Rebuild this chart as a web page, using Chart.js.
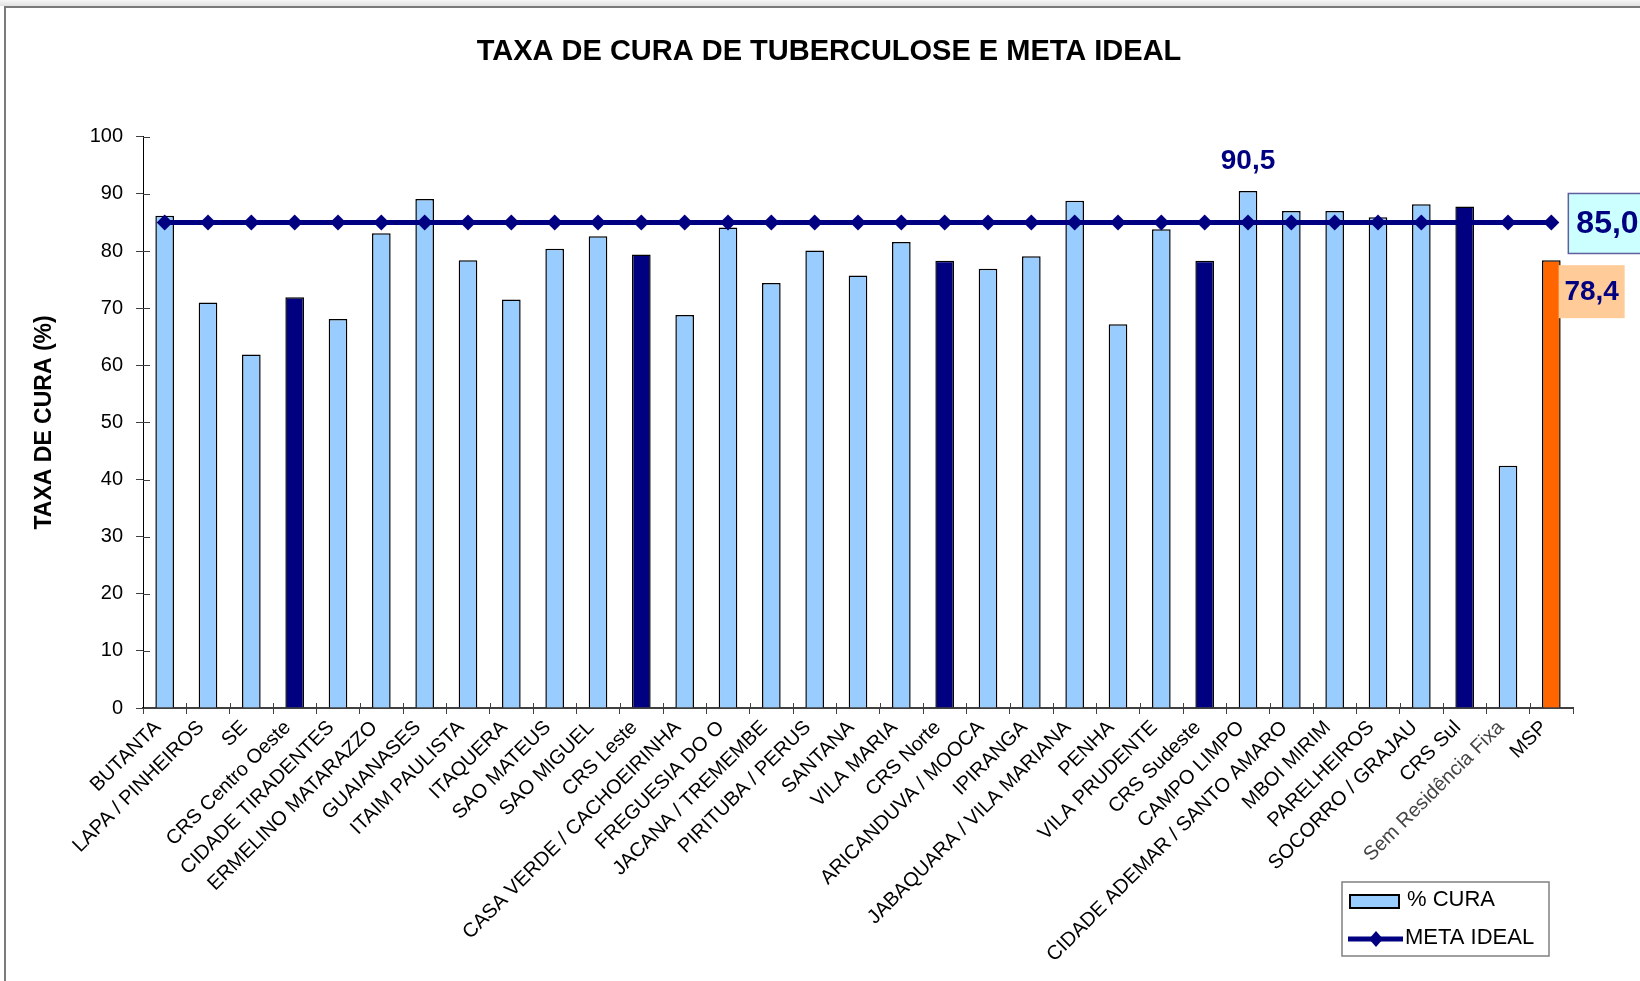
<!DOCTYPE html>
<html>
<head>
<meta charset="utf-8">
<script src="https://cdn.jsdelivr.net/npm/chart.js@4.4.0/dist/chart.umd.min.js"></script>
<style>
  html, body { margin: 0; padding: 0; background: #fff; }
  body { width: 1640px; height: 981px; overflow: hidden; position: relative; }
  #topband { position: absolute; left: 0; top: 0; width: 1640px; height: 6px; background: linear-gradient(#f6f6f6, #e2e2e2); }
  #frame { position: absolute; left: 4px; top: 6px; width: 1700px; height: 1100px; border: 2px solid #7a7a7a; box-sizing: border-box; }
  #c { position: absolute; left: 0; top: 0; }
</style>
</head>
<body>
<div id="topband"></div>
<div id="frame"></div>
<canvas id="c" width="1640" height="981"></canvas>
<script>
// Taxa de cura de tuberculose por região

const categories = [
  "BUTANTA", "LAPA / PINHEIROS", "SE", "CRS Centro Oeste", "CIDADE TIRADENTES",
  "ERMELINO MATARAZZO", "GUAIANASES", "ITAIM PAULISTA", "ITAQUERA", "SAO MATEUS",
  "SAO MIGUEL", "CRS Leste", "CASA VERDE / CACHOEIRINHA", "FREGUESIA DO O",
  "JACANA / TREMEMBE", "PIRITUBA / PERUS", "SANTANA", "VILA MARIA", "CRS Norte",
  "ARICANDUVA / MOOCA", "IPIRANGA", "JABAQUARA / VILA MARIANA", "PENHA",
  "VILA PRUDENTE", "CRS Sudeste", "CAMPO LIMPO", "CIDADE ADEMAR / SANTO AMARO",
  "MBOI MIRIM", "PARELHEIROS", "SOCORRO / GRAJAU", "CRS Sul",
  "Sem Residência Fixa", "MSP"
];

const cureRates = [
  86.2, 71.0, 61.9, 71.9, 68.1,
  83.1, 89.1, 78.4, 71.5, 80.4,
  82.6, 79.4, 68.8, 84.1,
  74.4, 80.1, 75.7, 81.6, 78.3,
  76.9, 79.1, 88.8, 67.2,
  83.8, 78.3, 90.5, 87.0,
  87.0, 85.9, 88.2, 87.8,
  42.4, 78.4
];

const metaIdeal = [
  85, 85, 85, 85, 85, 85, 85, 85, 85, 85, 85,
  85, 85, 85, 85, 85, 85, 85, 85, 85, 85, 85,
  85, 85, 85, 85, 85, 85, 85, 85, 85, 85, 85
];

const yTicks = [0, 10, 20, 30, 40, 50, 60, 70, 80, 90, 100];

const labeledBars = ["CAMPO LIMPO", "MSP"];

const FONT = '"Liberation Sans", Arial, sans-serif';
const LIGHT = "#99ccff";
const NAVY = "#000080";
const ORANGE = "#ff6600";

const barColors = categories.map((c) =>
  c === "MSP" ? ORANGE : c.startsWith("CRS") ? NAVY : LIGHT
);

const fmt = (v) => v.toFixed(1).replace(".", ",");

// value labels ("90,5", "78,4", "85,0")
const valueLabels = {
  id: "valueLabels",
  afterDatasetsDraw(chart) {
    const ctx = chart.ctx;
    const bars = chart.getDatasetMeta(1).data;
    const points = chart.getDatasetMeta(0).data;
    ctx.save();
    ctx.textBaseline = "middle";

    // CAMPO LIMPO: plain label above the bar
    const i = categories.indexOf(labeledBars[0]);
    ctx.font = "bold 28px " + FONT;
    ctx.fillStyle = NAVY;
    ctx.textAlign = "center";
    ctx.fillText(fmt(cureRates[i]), bars[i].x, bars[i].y - 30);

    // MSP: label in a peach box right of the bar
    const j = categories.indexOf(labeledBars[1]);
    const bx = bars[j].x + bars[j].width / 2 - 2;
    const by = bars[j].y + 5;
    ctx.fillStyle = "#ffcc99";
    ctx.fillRect(bx, by, 66, 53);
    ctx.fillStyle = NAVY;
    ctx.fillText(fmt(cureRates[j]), bx + 33, by + 27);

    // meta line: label in a cyan box after the last point
    const p = points[points.length - 1];
    const mx = p.x + 17;
    const my = p.y - 29;
    ctx.fillStyle = "#ccffff";
    ctx.fillRect(mx, my, 90, 60);
    ctx.strokeStyle = "#5f5f9f";
    ctx.lineWidth = 1.5;
    ctx.strokeRect(mx, my, 90, 60);
    ctx.font = "bold 32px " + FONT;
    ctx.fillStyle = NAVY;
    ctx.textAlign = "left";
    ctx.fillText(fmt(metaIdeal[metaIdeal.length - 1]), mx + 8, my + 31);
    ctx.restore();
  },
};

// Excel style ticks that cross the axes
const crossTicks = {
  id: "crossTicks",
  afterDatasetsDraw(chart) {
    const ctx = chart.ctx;
    const { x, y } = chart.scales;
    ctx.save();
    ctx.strokeStyle = "#404040";
    ctx.lineWidth = 1;
    yTicks.forEach((t) => {
      const py = Math.round(y.getPixelForValue(t)) + 0.5;
      ctx.beginPath();
      ctx.moveTo(x.left, py);
      ctx.lineTo(x.left + 7, py);
      ctx.stroke();
    });
    for (let k = 1; k < categories.length; k++) {
      const px = Math.round((x.getPixelForValue(k - 1) + x.getPixelForValue(k)) / 2) + 0.5;
      ctx.beginPath();
      ctx.moveTo(px, y.bottom);
      ctx.lineTo(px, y.bottom - 5);
      ctx.stroke();
    }
    ctx.restore();
  },
};

// legend box, bottom right
const legendBox = {
  id: "legendBox",
  afterDraw(chart) {
    const ctx = chart.ctx;
    ctx.save();
    ctx.fillStyle = "#fff";
    ctx.fillRect(1342, 882, 207, 74);
    ctx.strokeStyle = "#808080";
    ctx.lineWidth = 1.5;
    ctx.strokeRect(1342, 882, 207, 74);

    ctx.fillStyle = LIGHT;
    ctx.fillRect(1350, 895, 49, 13);
    ctx.strokeStyle = "#000";
    ctx.lineWidth = 2;
    ctx.strokeRect(1350, 895, 49, 13);

    ctx.strokeStyle = NAVY;
    ctx.lineWidth = 5;
    ctx.beginPath();
    ctx.moveTo(1348, 939);
    ctx.lineTo(1403, 939);
    ctx.stroke();
    ctx.fillStyle = NAVY;
    ctx.beginPath();
    ctx.moveTo(1376, 931);
    ctx.lineTo(1383, 939);
    ctx.lineTo(1376, 947);
    ctx.lineTo(1369, 939);
    ctx.closePath();
    ctx.fill();

    ctx.fillStyle = "#000";
    ctx.font = "22px " + FONT;
    ctx.textAlign = "left";
    ctx.textBaseline = "middle";
    ctx.fillText("% CURA", 1407, 900);
    ctx.fillText("META IDEAL", 1405, 938);
    ctx.restore();
  },
};

new Chart(document.getElementById("c").getContext("2d"), {
  data: {
    labels: categories,
    datasets: [
      {
        type: "line",
        label: "META IDEAL",
        data: metaIdeal,
        borderColor: NAVY,
        backgroundColor: NAVY,
        borderWidth: 5,
        pointStyle: "rectRot",
        pointRadius: 8,
        pointBackgroundColor: NAVY,
        pointBorderWidth: 0,
        order: 0,
      },
      {
        type: "bar",
        label: "% CURA",
        data: cureRates,
        backgroundColor: barColors,
        borderColor: "#000",
        borderWidth: 1.5,
        categoryPercentage: 1,
        barPercentage: 0.43,
        order: 1,
      },
    ],
  },
  options: {
    responsive: false,
    animation: false,
    layout: { padding: { left: 85, right: 67, top: 0, bottom: 0 } },
    plugins: {
      legend: { display: false },
      tooltip: { enabled: false },
      title: {
        display: true,
        text: "TAXA DE CURA DE TUBERCULOSE E META IDEAL",
        color: "#000",
        font: { family: FONT, size: 29, weight: "bold" },
        padding: { top: 35, bottom: 67 },
      },
    },
    scales: {
      x: {
        afterFit: (s) => { s.height = 273; },
        grid: { drawOnChartArea: false, drawTicks: true, tickLength: 6, color: "#404040" },
        border: { color: "#404040", width: 2 },
        ticks: {
          autoSkip: false,
          minRotation: 45,
          maxRotation: 45,
          padding: 2,
          labelOffset: -7,
          color: (c) => (c.tick && c.tick.label === "Sem Residência Fixa" ? "#444" : "#000"),
          font: { family: FONT, size: 20 },
        },
      },
      y: {
        min: 0,
        max: 100,
        afterFit: (s) => { s.width = 58; },
        afterBuildTicks: (s) => { s.ticks = yTicks.map((v) => ({ value: v })); },
        grid: { drawOnChartArea: false, drawTicks: true, tickLength: 7, color: "#404040" },
        border: { color: "#000", width: 1 },
        ticks: {
          padding: 13,
          color: "#000",
          font: { family: FONT, size: 20 },
        },
        title: {
          display: true,
          text: "TAXA DE CURA (%)",
          color: "#000",
          font: { family: FONT, size: 23, weight: "bold" },
          padding: { top: -54, bottom: 0 },
        },
      },
    },
  },
  plugins: [valueLabels, crossTicks, legendBox],
});
</script>
</body>
</html>
